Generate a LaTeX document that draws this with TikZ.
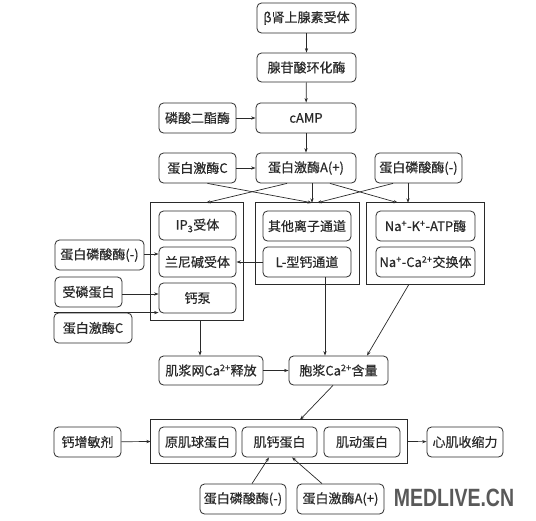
\documentclass[tikz,border=0pt]{standalone}
\usepackage{fontspec}
\setmainfont{Noto Sans CJK SC}[FakeBold=0.5]
\newfontfamily\wmfont{Liberation Sans}
\usetikzlibrary{arrows.meta,calc}
\definecolor{ink}{HTML}{2A2A2A}
\tikzset{
  box/.style={draw=ink, line width=0.8pt, rounded corners=4.5pt, inner sep=0pt,
    text=ink, font=\fontsize{13}{15}\selectfont, minimum height=30pt},
  grp/.style={draw=ink, line width=0.7pt, fill=none},
  arr/.style={draw=ink, line width=0.7pt, -{Stealth[length=4.5pt,width=3.2pt]}},
}
\begin{document}
\begin{tikzpicture}[x=1pt,y=-1pt]
\useasboundingbox (0,0) rectangle (536,520);
% groups
\node[minimum width=92pt, minimum height=117pt, inner sep=0pt] (g1) at (197,261.5) {};
\draw[grp] (g1.north west) rectangle (g1.south east);
\node[minimum width=103pt, minimum height=81pt, inner sep=0pt] (g2) at (307.5,243.5) {};
\draw[grp] (g2.north west) rectangle (g2.south east);
\node[minimum width=117pt, minimum height=81pt, inner sep=0pt] (g3) at (425.5,243.5) {};
\draw[grp] (g3.north west) rectangle (g3.south east);
\node[minimum width=256pt, minimum height=43pt, inner sep=0pt] (g4) at (279,441.5) {};
\draw[grp] (g4.north west) rectangle (g4.south east);
% boxes
\node[box, minimum width=99pt] (beta) at (306.5,18) {β肾上腺素受体};
\node[box, minimum width=99pt, minimum height=29pt] (ac) at (306.5,67.5) {腺苷酸环化酶};
\node[box, minimum width=77pt] (pde) at (197.5,118) {磷酸二酯酶};
\node[box, minimum width=100pt] (camp) at (306,118) {cAMP};
\node[box, minimum width=77pt] (pkc) at (197.5,168) {蛋白激酶C};
\node[box, minimum width=100pt] (pka) at (306,168) {蛋白激酶A(+)};
\node[box, minimum width=87pt] (pp) at (418.5,168) {蛋白磷酸酶(-)};
\node[box, minimum width=77pt, minimum height=29pt] (ip3) at (197.5,225.5) {IP\textsubscript{3}受体};
\node[box, minimum width=77pt] (ryr) at (197.5,262) {兰尼碱受体};
\node[box, minimum width=77pt] (pump) at (197.5,298) {钙泵};
\node[box, minimum width=88pt] (other) at (307,226) {其他离子通道};
\node[box, minimum width=88pt] (ltype) at (307,262) {L-型钙通道};
\node[box, minimum width=99pt] (nak) at (425.5,226) {Na\textsuperscript{+}-K\textsuperscript{+}-ATP酶};
\node[box, minimum width=99pt] (naca) at (425.5,262) {Na\textsuperscript{+}-Ca\textsuperscript{2+}交换体};
\node[box, minimum width=89pt] (ppL) at (99.5,255) {蛋白磷酸酶(-)};
\node[box, minimum width=67pt] (plb) at (88.5,292) {受磷蛋白};
\node[box, minimum width=78pt] (pkcL) at (93,328) {蛋白激酶C};
\node[box, minimum width=104pt, minimum height=29pt] (sr) at (211,370.5) {肌浆网Ca\textsuperscript{2+}释放};
\node[box, minimum width=99pt, minimum height=29pt] (cyto) at (338.5,370.5) {胞浆Ca\textsuperscript{2+}含量};
\node[box, minimum width=67pt] (sens) at (87.5,442) {钙增敏剂};
\node[box, minimum width=77pt] (tm) at (197.5,442) {原肌球蛋白};
\node[box, minimum width=75pt] (tn) at (279.5,442) {肌钙蛋白};
\node[box, minimum width=76pt] (actin) at (362,442) {肌动蛋白};
\node[box, minimum width=76pt] (force) at (465,442) {心肌收缩力};
\node[box, minimum width=86pt] (ppB) at (243,499) {蛋白磷酸酶(-)};
\node[box, minimum width=87pt] (pkaB) at (340.5,499) {蛋白激酶A(+)};
\node[text=gray!70!black, font=\wmfont\bfseries\fontsize{25}{25}\selectfont, xscale=0.78, inner sep=0pt] (wm) at (454,497.5) {MEDLIVE.CN};
% connectors
\draw[arr] (beta) -- (ac);
\draw[arr] (ac) -- (camp);
\draw[arr] (pde) -- (camp);
\draw[arr] (camp) -- (pka);
\draw[arr] (pkc) -- (pka);
\draw[arr] ([xshift=10pt]pkc.south) -- ([xshift=4.5pt]g2.north);
\draw[arr] ([xshift=-19pt]pka.south) -- ([xshift=9pt]g1.north);
\draw[arr] ([xshift=6pt]pka.south) -- ([xshift=4.5pt]g2.north);
\draw[arr] ([xshift=24pt]pka.south) -- ([xshift=-27.5pt]g3.north);
\draw[arr] ([xshift=-25.5pt]pp.south) -- ([xshift=9.5pt]g2.north);
\draw[arr] ([xshift=-10.5pt]pp.south) -- ([xshift=-17.5pt]g3.north);
\draw[arr] ([yshift=1pt]ppL.east) -- ([yshift=1pt]ppL.east -| ryr.west);
\draw[arr] ([yshift=-2pt]plb.east) -- ([yshift=-2pt]plb.east -| pump.west);
\draw[arr] (pkcL.north west) -- (pkcL.north west -| pump.west);
\draw[arr] (ltype.west) -- (ryr.east);
\draw[arr] ([xshift=3pt]g1.south) -- ([xshift=3pt]g1.south |- sr.north);
\draw[arr] ([xshift=18pt]ltype.south) -- ([xshift=18pt]ltype.south |- cyto.north);
\draw[arr] ([xshift=-16.5pt]g3.south) -- ([xshift=28.5pt]cyto.north);
\draw[arr] (sr) -- (cyto);
\draw[arr] ([xshift=-5.5pt]cyto.south) -- ([xshift=21pt]g4.north);
\draw[arr] (sens) -- (g4.west);
\draw[arr] (g4.east) -- (force);
\draw[arr] ([xshift=9pt]ppB.north) -- ([xshift=-10.5pt]tn.south);
\draw[arr] ([xshift=-18.5pt]pkaB.north) -- ([xshift=12.5pt]tn.south);
\end{tikzpicture}
\end{document}
